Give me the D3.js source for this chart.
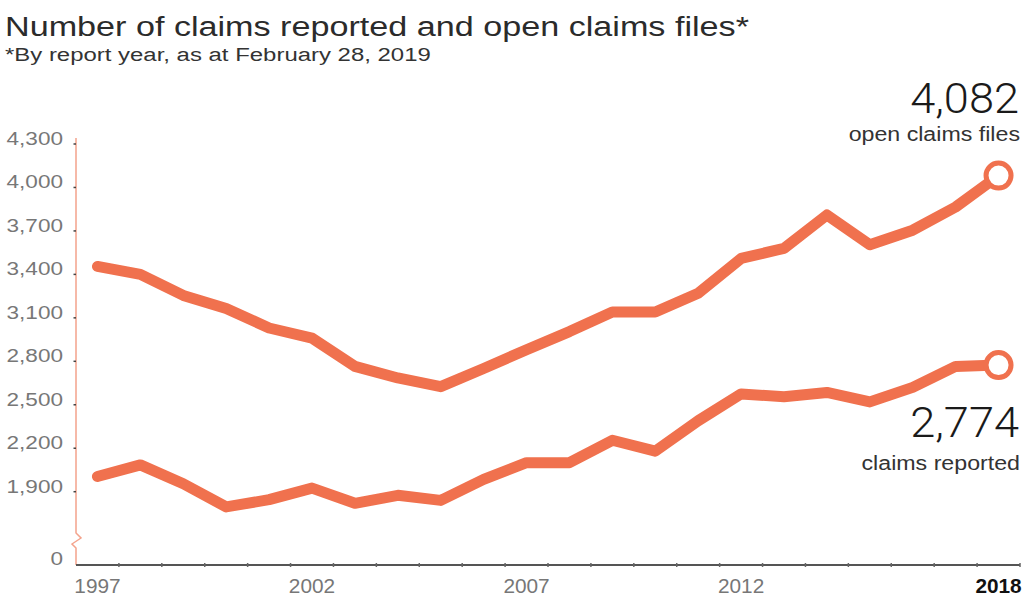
<!DOCTYPE html>
<html>
<head>
<meta charset="utf-8">
<script src="https://cdn.jsdelivr.net/npm/d3@7"></script>
<style>
  html, body { margin: 0; padding: 0; background: #fff; }
  svg { display: block; font-family: "Liberation Sans", Arial, Helvetica, sans-serif; }
</style>
</head>
<body>
<svg id="chart" width="1025" height="597"></svg>
<script>
// Report years
const years = [1997, 1998, 1999, 2000, 2001, 2002, 2003, 2004, 2005, 2006, 2007,
               2008, 2009, 2010, 2011, 2012, 2013, 2014, 2015, 2016, 2017, 2018];

// Open claims files by report year
const openClaims = [3455, 3400, 3255, 3165, 3030, 2960, 2765, 2685, 2625, 2750, 2880,
                    3005, 3140, 3140, 3270, 3510, 3580, 3810, 3605, 3705, 3865, 4082];

// Claims reported by report year
const claimsReported = [2005, 2085, 1955, 1795, 1845, 1925, 1820, 1875, 1840, 1985, 2100,
                        2100, 2255, 2180, 2390, 2575, 2555, 2585, 2520, 2620, 2765, 2774];

// Y-axis tick values (upper section); zero sits below the axis break
const yTicks = [1900, 2200, 2500, 2800, 3100, 3400, 3700, 4000, 4300];
const xLabels = [1997, 2002, 2007, 2012, 2018];

const lineColor = "#F0714E";
const svg = d3.select("#chart");

const x = d3.scaleBand().domain(years).range([76, 1020]);
const y = d3.scaleLinear().domain([1900, 4300]).range([491.7, 144]);
const zeroY = 565;
const fmt = d3.format(",");

// Text helper: horizontally widened glyphs, anchored at (px, py)
function label(parent, px, py, sx, size, str) {
  return parent.append("text")
    .attr("x", px / sx).attr("y", py)
    .attr("transform", `scale(${sx},1)`)
    .attr("font-size", size)
    .text(str);
}

// Title and subtitle
label(svg, 5, 36, 1.22, 28, "Number of claims reported and open claims files*").attr("fill", "#2b2b2b");
label(svg, 5, 61, 1.26, 19, "*By report year, as at February 28, 2019").attr("fill", "#333");

// Left axis with a break between 0 and 1,900
const axisX = x.range()[0];
svg.append("path")
  .attr("d", `M${axisX},${y(4300) - 6} V533 L${axisX + 5},538 L${axisX - 4},544 L${axisX},548 V${zeroY}`)
  .attr("fill", "none").attr("stroke", "#F4A38C").attr("stroke-width", 1.5);

const yAxis = svg.append("g");
yAxis.selectAll("line.tick").data(yTicks).join("line")
  .attr("x1", axisX - 2.5).attr("x2", axisX)
  .attr("y1", d => y(d)).attr("y2", d => y(d))
  .attr("stroke", "#444").attr("stroke-width", 1.5);
yTicks.forEach(t => {
  label(yAxis, 63, y(t) + 1, 1.22, 18.5, fmt(t))
    .attr("text-anchor", "end").attr("fill", "#777");
});
label(yAxis, 63, zeroY, 1.22, 18.5, "0").attr("text-anchor", "end").attr("fill", "#777");

// Bottom axis
const xAxis = svg.append("g");
xAxis.append("line")
  .attr("x1", axisX).attr("x2", x.range()[1])
  .attr("y1", zeroY).attr("y2", zeroY)
  .attr("stroke", "#555").attr("stroke-width", 2);
const bounds = years.map(d => x(d)).concat([x.range()[1]]);
xAxis.selectAll("line.tick").data(bounds.slice(1)).join("line")
  .attr("x1", d => d).attr("x2", d => d)
  .attr("y1", zeroY - 2).attr("y2", zeroY + 2)
  .attr("stroke", "#666").attr("stroke-width", 1.5);
xLabels.forEach(yr => {
  label(xAxis, x(yr) + x.bandwidth() / 2, 593, 1.04, 20, yr)
    .attr("text-anchor", "middle")
    .attr("font-weight", yr === 2018 ? "bold" : "normal")
    .attr("fill", yr === 2018 ? "#111" : "#777");
});

// Series lines
const cx = d => x(d) + x.bandwidth() / 2;
const line = d3.line().x((d, i) => cx(years[i])).y(d => y(d));

[openClaims, claimsReported].forEach(series => {
  svg.append("path")
    .datum(series)
    .attr("d", line)
    .attr("fill", "none")
    .attr("stroke", lineColor)
    .attr("stroke-width", 11)
    .attr("stroke-linejoin", "round")
    .attr("stroke-linecap", "round");
  const last = series.length - 1;
  svg.append("circle")
    .attr("cx", cx(years[last])).attr("cy", y(series[last]))
    .attr("r", 12.5)
    .attr("fill", "#fff").attr("stroke", lineColor).attr("stroke-width", 5);
});

// End-value callouts
const lastIdx = years.length - 1;
label(svg, 1019, 113, 1.05, 43, fmt(openClaims[lastIdx]))
  .attr("text-anchor", "end").attr("fill", "#1a1a1a")
  .attr("font-family", "Roboto, 'Liberation Sans', sans-serif").attr("font-weight", 300);
label(svg, 1020, 141, 1.16, 20, "open claims files")
  .attr("text-anchor", "end").attr("fill", "#333");
label(svg, 1019, 437, 1.05, 43, fmt(claimsReported[lastIdx]))
  .attr("text-anchor", "end").attr("fill", "#1a1a1a")
  .attr("font-family", "Roboto, 'Liberation Sans', sans-serif").attr("font-weight", 300);
label(svg, 1020, 470, 1.16, 20, "claims reported")
  .attr("text-anchor", "end").attr("fill", "#333");
</script>
</body>
</html>
